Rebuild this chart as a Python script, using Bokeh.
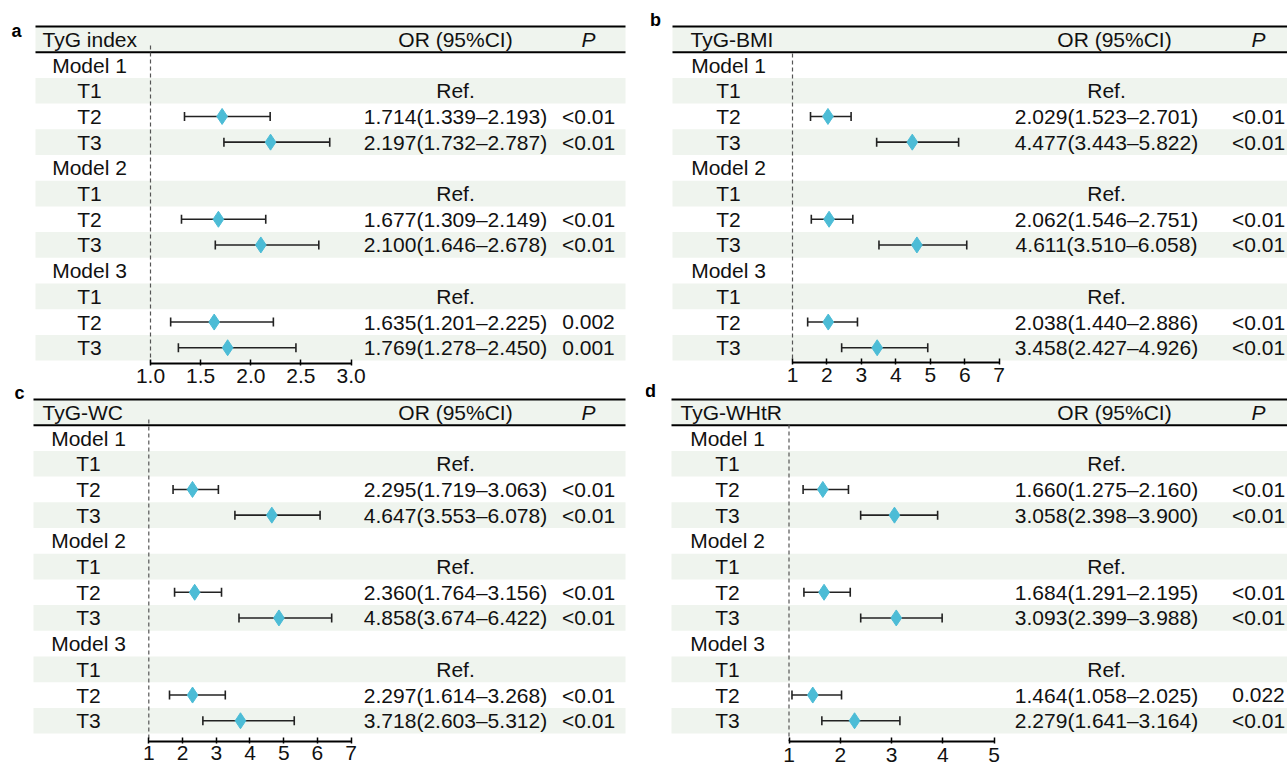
import math
from bokeh.plotting import figure
from bokeh.layouts import row, column
from bokeh.models import Range1d, FixedTicker
from bokeh.core.properties import value
from bokeh.embed import file_html
from bokeh.resources import INLINE

FONT = "Liberation Sans"
SHADE = "#eff4ee"
CYAN = "#4cbcd6"
INK = "#111111"
FS = "21px"

# ---------------- data ----------------
row_labels = ["Model 1", "T1", "T2", "T3",
              "Model 2", "T1", "T2", "T3",
              "Model 3", "T1", "T2", "T3"]

a_title = "TyG index"
a_or = [1.714, 2.197, 1.677, 2.100, 1.635, 1.769]
a_lo = [1.339, 1.732, 1.309, 1.646, 1.201, 1.278]
a_hi = [2.193, 2.787, 2.149, 2.678, 2.225, 2.450]
a_p = ["<0.01", "<0.01", "<0.01", "<0.01", "0.002", "0.001"]
a_ticks = [1.0, 1.5, 2.0, 2.5, 3.0]
a_tick_labels = ["1.0", "1.5", "2.0", "2.5", "3.0"]

b_title = "TyG-BMI"
b_or = [2.029, 4.477, 2.062, 4.611, 2.038, 3.458]
b_lo = [1.523, 3.443, 1.546, 3.510, 1.440, 2.427]
b_hi = [2.701, 5.822, 2.751, 6.058, 2.886, 4.926]
b_p = ["<0.01", "<0.01", "<0.01", "<0.01", "<0.01", "<0.01"]
b_ticks = [1, 2, 3, 4, 5, 6, 7]
b_tick_labels = ["1", "2", "3", "4", "5", "6", "7"]

c_title = "TyG-WC"
c_or = [2.295, 4.647, 2.360, 4.858, 2.297, 3.718]
c_lo = [1.719, 3.553, 1.764, 3.674, 1.614, 2.603]
c_hi = [3.063, 6.078, 3.156, 6.422, 3.268, 5.312]
c_p = ["<0.01", "<0.01", "<0.01", "<0.01", "<0.01", "<0.01"]
c_ticks = [1, 2, 3, 4, 5, 6, 7]
c_tick_labels = ["1", "2", "3", "4", "5", "6", "7"]

d_title = "TyG-WHtR"
d_or = [1.660, 3.058, 1.684, 3.093, 1.464, 2.279]
d_lo = [1.275, 2.398, 1.291, 2.399, 1.058, 1.641]
d_hi = [2.160, 3.900, 2.195, 3.988, 2.025, 3.164]
d_p = ["<0.01", "<0.01", "<0.01", "<0.01", "0.022", "<0.01"]
d_ticks = [1, 2, 3, 4, 5]
d_tick_labels = ["1", "2", "3", "4", "5"]


def make_panel(title, ors, los, his, ps, ticks, tick_labels, g, letter):
    ppu = g["ppu"]
    x_start = 1 - g["x1_px"] / ppu
    x_end = x_start + g["fig_w"] / ppu
    rh = g["row_h"]

    def X(px):
        return x_start + px / ppu

    def Y(py):
        return (py - g["rule_px"]) / rh

    y_top = Y(0)
    y_bottom = Y(g["frame_h"])

    p = figure(width=g["fig_w"], height=g["fig_h"],
               x_range=Range1d(x_start, x_end),
               y_range=Range1d(y_bottom, y_top),
               output_backend="svg", toolbar_location=None,
               y_axis_location=None,
               min_border_left=0, min_border_right=0, min_border_top=0,
               min_border_bottom=g["fig_h"] - g["frame_h"],
               outline_line_color=None,
               background_fill_color=None, border_fill_color=None,
               margin=g["margin"])
    p.xgrid.visible = False
    p.ygrid.visible = False

    nrows = len(row_labels)
    shaded = [r for r in range(0, nrows + 1, 2)]
    p.quad(left=X(g["table_l"]), right=X(g["table_r"]),
           top=shaded, bottom=[r + 1 for r in shaded],
           fill_color=SHADE, line_color=None)

    p.segment(x0=X(g["table_l"]), x1=X(g["table_r"]), y0=[0, 1], y1=[0, 1],
              line_color="black", line_width=2)

    p.segment(x0=1, x1=1, y0=Y(g["dash_start"]), y1=y_bottom,
              line_color="#555555", line_width=1.2, line_dash="4 3")

    ys = [1 + 4 * (k // 2) + 2 + (k % 2) + 0.5 for k in range(len(ors))]
    p.segment(x0=los, x1=his, y0=ys, y1=ys, line_color="#222222", line_width=1.6)
    p.scatter(x=los + his, y=ys + ys, marker="dash", angle=math.pi / 2,
              size=9, line_color="#222222", line_width=1.6)
    p.scatter(x=ors, y=ys, marker="diamond", size=16,
              fill_color=CYAN, line_color=CYAN)

    tkw = dict(text_font=value(FONT), text_font_size=FS,
               text_color=INK, text_baseline="middle")
    p.text(x=[X(g["head_x"])], y=[0.5], text=[title], text_align="left", **tkw)
    p.text(x=[X(g["orh_cx"])], y=[0.5], text=["OR (95%CI)"], text_align="center", **tkw)
    p.text(x=[X(g["p_cx"])], y=[0.5], text=["P"], text_align="center",
           text_font_style="italic", **tkw)

    row_ys = [i + 1.5 for i in range(nrows)]
    p.text(x=[X(g["label_cx"])] * nrows, y=row_ys, text=row_labels,
           text_align="center", **tkw)

    or_texts, or_ys, p_texts, p_ys = [], [], [], []
    for m in range(3):
        or_texts.append("Ref.")
        or_ys.append(1 + 4 * m + 1 + 0.5)
    for k in range(len(ors)):
        or_texts.append(f"{ors[k]:.3f}({los[k]:.3f}\u2013{his[k]:.3f})")
        or_ys.append(ys[k])
        p_texts.append(ps[k])
        p_ys.append(ys[k])
    p.text(x=[X(g["or_cx"])] * len(or_texts), y=or_ys, text=or_texts,
           text_align="center", **tkw)
    p.text(x=[X(g["p_cx"])] * len(p_texts), y=p_ys, text=p_texts,
           text_align="center", **tkw)

    ax = p.xaxis[0]
    ax.ticker = FixedTicker(ticks=ticks)
    ax.major_label_overrides = {t: l for t, l in zip(ticks, tick_labels)}
    ax.bounds = (ticks[0], ticks[-1])
    ax.minor_tick_line_color = None
    ax.axis_line_color = "black"
    ax.axis_line_width = 2
    ax.major_tick_line_color = "black"
    ax.major_tick_line_width = 1.5
    ax.major_tick_in = 4
    ax.major_tick_out = 2
    ax.major_label_standoff = g["standoff"]
    ax.major_label_text_font = FONT
    ax.major_label_text_font_size = FS
    ax.major_label_text_color = INK

    if letter:
        txt, lx, ly = letter
        p.text(x=[X(lx)], y=[Y(ly)], text=[txt], text_font=value(FONT),
               text_font_style="bold", text_font_size="18px",
               text_color="black", text_align="center", text_baseline="middle")
    return p


# top panels: frame 0..363 px; bottom panels overlap upward by 16 px
geo_a = dict(fig_w=645, fig_h=398, frame_h=363, x1_px=150, ppu=100.3,
             rule_px=26, row_h=25.7, table_l=35, table_r=625, label_cx=89,
             head_x=42, or_cx=455, orh_cx=455, p_cx=588, dash_start=45,
             standoff=3, margin=(0, 0, 0, 0))
geo_b = dict(fig_w=642, fig_h=398, frame_h=362, x1_px=147, ppu=34.45,
             rule_px=26, row_h=25.7, table_l=27, table_r=642, label_cx=83,
             head_x=45, or_cx=461, orh_cx=469, p_cx=613, dash_start=53,
             standoff=3, margin=(0, 0, 0, 0))
geo_c = dict(fig_w=645, fig_h=386, frame_h=359, x1_px=148.3, ppu=33.73,
             rule_px=17, row_h=25.7, table_l=33, table_r=625, label_cx=88,
             head_x=42, or_cx=455, orh_cx=455, p_cx=588, dash_start=37,
             standoff=2, margin=(-16, 0, 0, 0))
geo_d = dict(fig_w=642, fig_h=386, frame_h=359, x1_px=143.5, ppu=51.25,
             rule_px=17, row_h=25.7, table_l=26, table_r=642, label_cx=82,
             head_x=35, or_cx=461, orh_cx=469, p_cx=613, dash_start=42,
             standoff=4, margin=(-16, 0, 0, 0))

pa = make_panel(a_title, a_or, a_lo, a_hi, a_p, a_ticks, a_tick_labels, geo_a,
                ("a", 16, 30))
pb = make_panel(b_title, b_or, b_lo, b_hi, b_p, b_ticks, b_tick_labels, geo_b,
                ("b", 10, 19))
pc = make_panel(c_title, c_or, c_lo, c_hi, c_p, c_ticks, c_tick_labels, geo_c,
                ("c", 19, 10))
pd_ = make_panel(d_title, d_or, d_lo, d_hi, d_p, d_ticks, d_tick_labels, geo_d,
                 ("d", 5, 8))

layout = row(column(pa, pc), column(pb, pd_))
open("out.html", "w").write(file_html(layout, INLINE))
